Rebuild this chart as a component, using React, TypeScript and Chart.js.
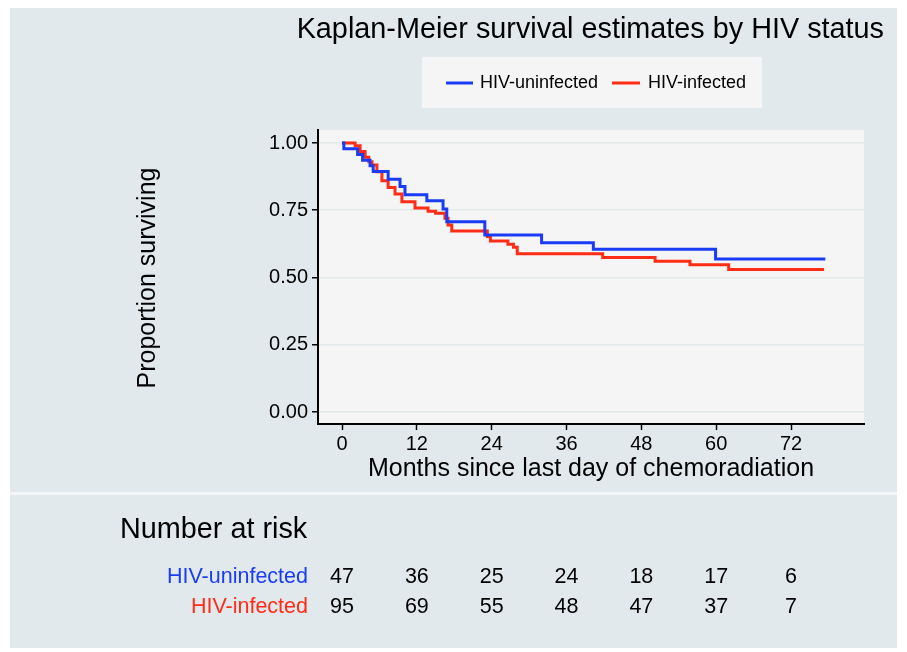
import React, { useEffect, useRef } from "react";
import { Chart, registerables } from "chart.js";

Chart.register(...registerables);

// Kaplan-Meier step data: time (months) at which the estimate changes, and new value
const uninfTimes = [0, 0.3, 2.5, 3.3, 4.5, 5.0, 7.4, 9.3, 10.1, 13.6, 16.2, 16.8, 22.9, 32.0, 40.3, 59.9, 77.5];
const uninfSurv = [1.0, 0.979, 0.957, 0.936, 0.915, 0.894, 0.865, 0.838, 0.808, 0.785, 0.755, 0.707, 0.658, 0.629, 0.605, 0.569, 0.569];

const infTimes = [0, 2.1, 2.9, 3.7, 4.3, 4.8, 5.6, 6.4, 7.4, 8.5, 9.6, 11.7, 13.8, 15.0, 16.5, 17.0, 17.6, 23.3, 23.8, 26.6, 27.5, 28.1, 41.8, 50.2, 55.8, 62.0, 77.3];
const infSurv = [1.0, 0.99, 0.968, 0.947, 0.93, 0.918, 0.893, 0.86, 0.835, 0.81, 0.782, 0.758, 0.746, 0.739, 0.72, 0.695, 0.673, 0.652, 0.636, 0.624, 0.612, 0.588, 0.574, 0.56, 0.547, 0.53, 0.53];

const xTicks = [0, 12, 24, 36, 48, 60, 72];
const yTicks = [0, 0.25, 0.5, 0.75, 1.0];
const riskUninf = [47, 36, 25, 24, 18, 17, 6];
const riskInf = [95, 69, 55, 48, 47, 37, 7];

const seriesNames = ["HIV-uninfected", "HIV-infected"];
const titleText = "Kaplan-Meier survival estimates by HIV status";
const xTitle = "Months since last day of chemoradiation";
const yTitle = "Proportion surviving";
const riskTitle = "Number at risk";

const BLUE = "#1a3cf5";
const RED = "#ff2d16";
const FONT = "'Liberation Sans', Arial, sans-serif";

export default function App() {
  const ref = useRef<HTMLCanvasElement>(null);
  useEffect(() => {
    const canvas = ref.current!;
    const decor = {
      id: "decor",
      beforeDraw(chart: any) {
        const ctx = chart.ctx;
        const ca = chart.chartArea;
        ctx.save();
        ctx.fillStyle = "#ffffff";
        ctx.fillRect(0, 0, 907, 652);
        ctx.fillStyle = "#e2e9ec";
        ctx.fillRect(10, 8, 887, 640);
        // separator
        ctx.fillStyle = "#f2f6f7";
        ctx.fillRect(10, 492, 887, 3);
        // plot region
        ctx.fillStyle = "#f5f5f5";
        ctx.fillRect(ca.left, ca.top, ca.right - ca.left, ca.bottom - ca.top);
        ctx.restore();
      },
      afterDraw(chart: any) {
        const ctx = chart.ctx;
        const xs = chart.scales.x;
        ctx.save();
        ctx.fillStyle = "#000";
        ctx.textBaseline = "middle";
        // title
        ctx.font = `28.8px ${FONT}`;
        ctx.textAlign = "right";
        ctx.fillText(titleText, 884, 30);
        // legend
        ctx.fillStyle = "#f5f5f5";
        ctx.fillRect(422, 57, 340, 51);
        ctx.lineWidth = 3;
        ctx.strokeStyle = BLUE;
        ctx.beginPath(); ctx.moveTo(446, 83); ctx.lineTo(473, 83); ctx.stroke();
        ctx.strokeStyle = RED;
        ctx.beginPath(); ctx.moveTo(612, 83); ctx.lineTo(640, 83); ctx.stroke();
        ctx.fillStyle = "#000";
        ctx.font = `18px ${FONT}`;
        ctx.textAlign = "left";
        ctx.fillText(seriesNames[0], 480, 83);
        ctx.fillText(seriesNames[1], 648, 83);
        // axis titles
        ctx.font = `25px ${FONT}`;
        ctx.textAlign = "center";
        ctx.fillText(xTitle, 591, 469);
        ctx.save();
        ctx.translate(148, 278);
        ctx.rotate(-Math.PI / 2);
        ctx.fillText(yTitle, 0, 0);
        ctx.restore();
        // risk table
        ctx.font = `28.8px ${FONT}`;
        ctx.textAlign = "left";
        ctx.fillText(riskTitle, 120, 530);
        ctx.font = `21.5px ${FONT}`;
        ctx.textAlign = "right";
        ctx.fillStyle = BLUE;
        ctx.fillText(seriesNames[0], 308, 577);
        ctx.fillStyle = RED;
        ctx.fillText(seriesNames[1], 308, 607);
        ctx.fillStyle = "#000";
        ctx.textAlign = "center";
        xTicks.forEach((t, i) => {
          const px = xs.getPixelForValue(t);
          ctx.fillText(String(riskUninf[i]), px, 577);
          ctx.fillText(String(riskInf[i]), px, 607);
        });
        ctx.restore();
      },
    };
    const chart = new Chart(canvas, {
      type: "line",
      data: {
        datasets: [
          {
            label: seriesNames[0],
            data: uninfTimes.map((t, i) => ({ x: t, y: uninfSurv[i] })),
            borderColor: BLUE,
            borderWidth: 3,
            pointRadius: 0,
            stepped: "before",
            fill: false,
          },
          {
            label: seriesNames[1],
            data: infTimes.map((t, i) => ({ x: t, y: infSurv[i] })),
            borderColor: RED,
            borderWidth: 3,
            pointRadius: 0,
            stepped: "before",
            fill: false,
          },
        ],
      },
      options: {
        responsive: false,
        animation: false,
        events: [],
        layout: { padding: { left: 0, top: 130, right: 43, bottom: 0 } },
        plugins: { legend: { display: false }, tooltip: { enabled: false }, title: { display: false } },
        scales: {
          x: {
            type: "linear",
            min: -3.85,
            max: 83.7,
            afterFit: (s: any) => { s.height = 228; },
            afterBuildTicks: (s: any) => { s.ticks = xTicks.map((v) => ({ value: v })); },
            border: { display: true, color: "#000", width: 2 },
            grid: { drawOnChartArea: false, drawTicks: true, tickLength: 6, tickColor: "#000", tickWidth: 1.5 },
            ticks: { color: "#000", font: { family: FONT, size: 20 }, padding: 2, maxRotation: 0, autoSkip: false },
          },
          y: {
            type: "linear",
            min: -0.0446,
            max: 1.0483,
            afterFit: (s: any) => { s.width = 318; },
            afterBuildTicks: (s: any) => { s.ticks = yTicks.map((v) => ({ value: v })); },
            border: { display: true, color: "#000", width: 2 },
            grid: { color: "#e1e9eb", lineWidth: 1.5, drawTicks: true, tickLength: 6, tickColor: "#000", tickWidth: 1.5 },
            ticks: { color: "#000", font: { family: FONT, size: 20 }, padding: 4, callback: (v: any) => Number(v).toFixed(2), autoSkip: false },
          },
        },
      },
      plugins: [decor],
    });
    return () => chart.destroy();
  }, []);
  return (
    <div style={{ position: "absolute", left: 0, top: 0, width: 907, height: 652 }}>
      <canvas ref={ref} width={907} height={652} style={{ display: "block" }} />
    </div>
  );
}
